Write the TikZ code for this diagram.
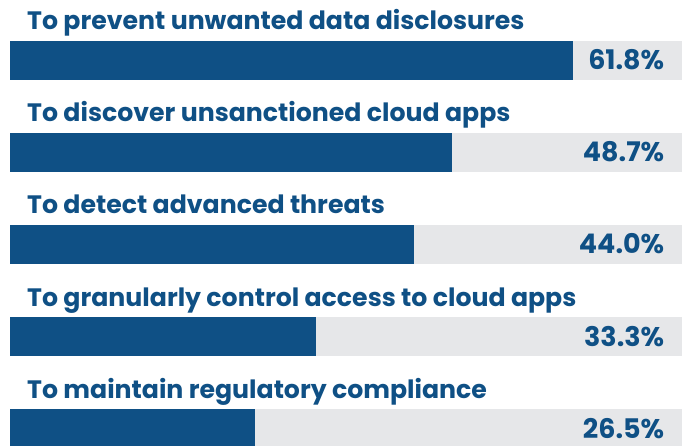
\documentclass[tikz,border=0pt]{standalone}
\usepackage{fontspec}
\setmainfont{Poppins}
\definecolor{navy}{HTML}{0F5085}
\definecolor{paleback}{HTML}{E6E7E9}

\begin{document}
\begin{tikzpicture}[x=1pt,y=-1pt,
    back/.style={fill=paleback,anchor=north west,inner sep=0pt,
      minimum width=672pt, minimum height=39pt},
    bar/.style={back,fill=navy},
    lbl/.style={navy,anchor=base west,inner sep=0pt,
      font=\fontsize{25.2}{25.2}\selectfont\bfseries},
    pct/.style={lbl,anchor=base east,
      font=\fontsize{27}{27}\selectfont\bfseries},]
  \useasboundingbox (0,0) rectangle (682,446);
  \clip (0,0) rectangle (682,446);
  \foreach \i/\txt/\len/\val in {
      0/To prevent unwanted data disclosures/563/61.8\%,
      1/To discover unsanctioned cloud apps/442/48.7\%,
      2/To detect advanced threats/404/44.0\%,
      3/To granularly control access to cloud apps/306/33.3\%,
      4/To maintain regulatory compliance/245/26.5\%}{
    \node[back] (back\i) at (10,41+92*\i) {};
    \node[bar, minimum width=\len pt] (bar\i) at (back\i.north west) {};
    \node[lbl] (name\i) at (27,30+92*\i) {\txt};
    \path (back\i.north east) node[pct, xshift=-18pt, yshift=-29pt] (val\i) {\val};
  }
\end{tikzpicture}
\end{document}
